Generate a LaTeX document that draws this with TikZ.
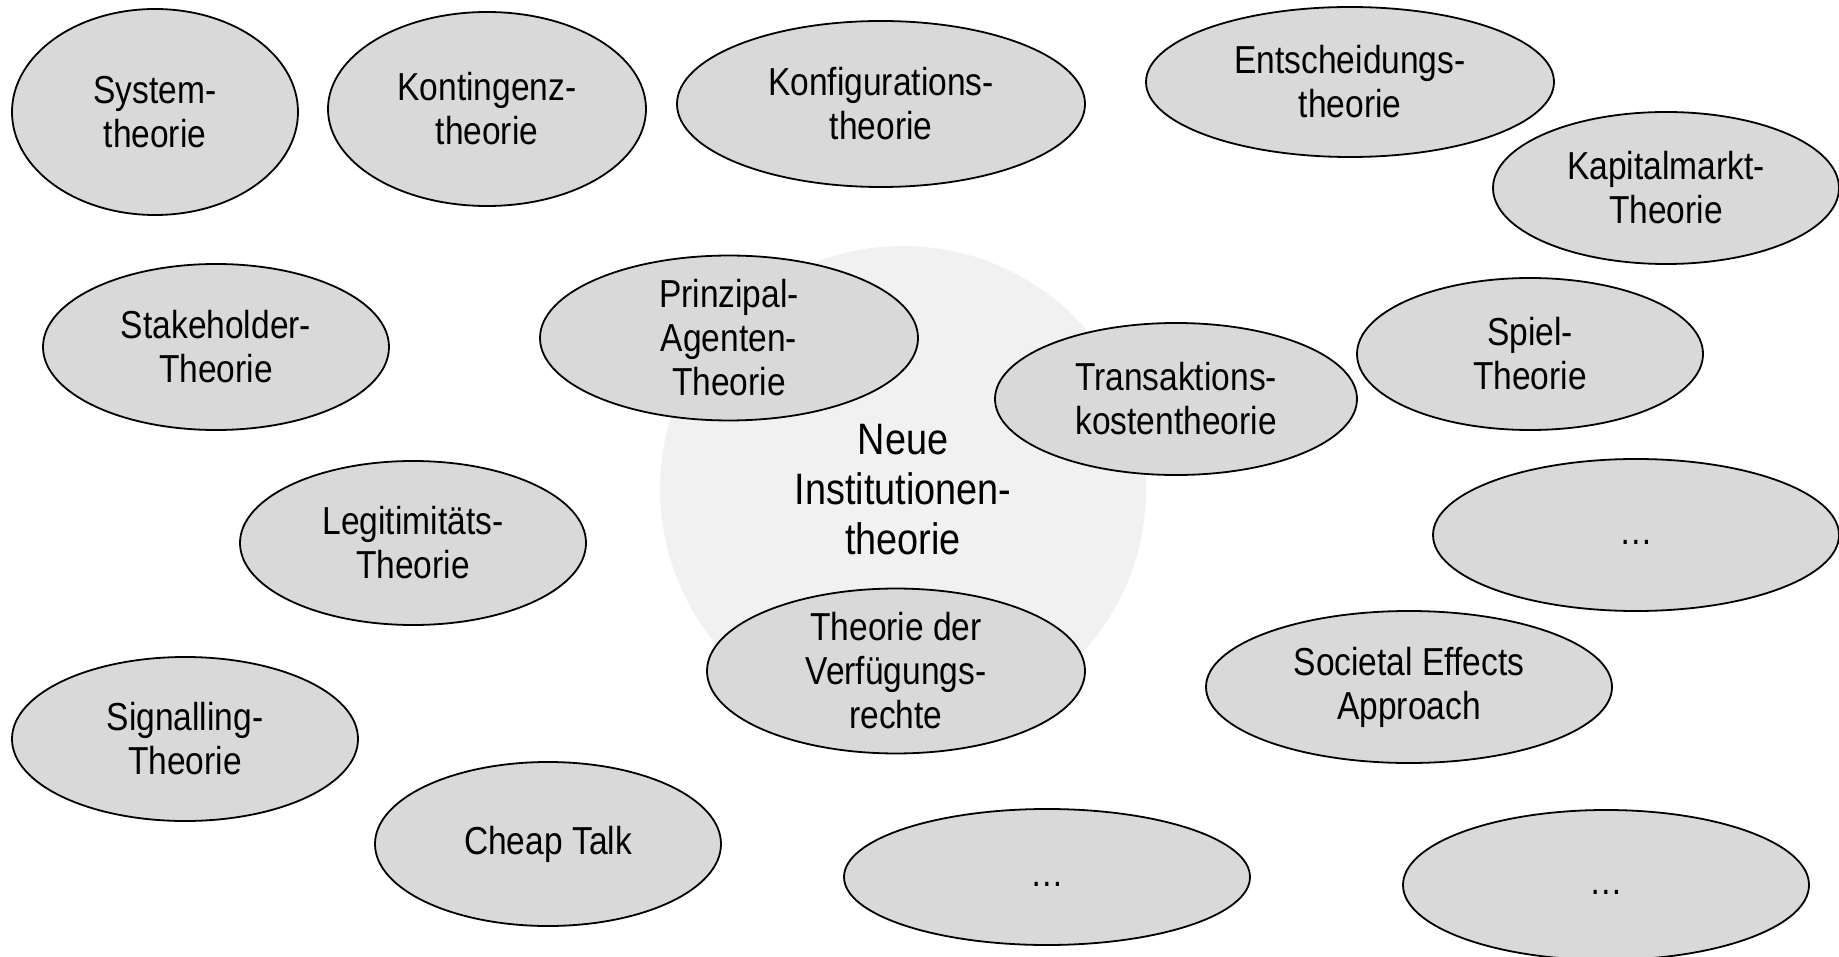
\documentclass[tikz,border=0pt]{standalone}
\usepackage{fontspec}
\setmainfont{Liberation Sans}[FakeStretch=0.86]
\usetikzlibrary{shapes.geometric}
\definecolor{bubblefill}{HTML}{D9D9D9}
\definecolor{corefill}{HTML}{F1F1F1}
\newcommand{\moredots}{\vphantom{Ag}…}
\begin{document}
\begin{tikzpicture}[x=1pt,y=-1pt,
  theory/.style={ellipse, draw=black, line width=1.8pt, fill=bubblefill,
    inner sep=0pt, align=center, font=\fontsize{39}{44}\selectfont},
  core/.style={align=center, font=\fontsize{44}{50}\selectfont}]
  \useasboundingbox (0,0) rectangle (1839,957);
  % central field of the new institutional economics
  \fill[corefill] (903,489) circle[radius=243];
  \node[core] (nie) at (903,490) {Neue\\Institutionen-\\theorie};
  % surrounding theories
  \node[theory, minimum width=286, minimum height=206] (sys) at (155,112) {System-\\theorie};
  \node[theory, minimum width=318, minimum height=194] (kont) at (487,109) {Kontingenz-\\theorie};
  \node[theory, minimum width=408, minimum height=166] (konf) at (881,104) {Konfigurations-\\theorie};
  \node[theory, minimum width=408, minimum height=150] (ent) at (1350,82) {Entscheidungs-\\theorie};
  \node[theory, minimum width=346, minimum height=152] (kap) at (1666,188) {Kapitalmarkt-\\Theorie};
  \node[theory, minimum width=346, minimum height=166] (stake) at (216,347) {Stakeholder-\\Theorie};
  \node[theory, minimum width=378, minimum height=152] (pa) at (729,338) {Prinzipal-\\Agenten-\\Theorie};
  \node[theory, minimum width=362, minimum height=152] (tk) at (1176,399) {Transaktions-\\kostentheorie};
  \node[theory, minimum width=346, minimum height=152] (spiel) at (1530,354) {Spiel-\\Theorie};
  \node[theory, minimum width=346, minimum height=164] (leg) at (413,543) {Legitimitäts-\\Theorie};
  \node[theory, minimum width=406, minimum height=152] (etc1) at (1636,535) {\moredots};
  \node[theory, minimum width=378, minimum height=152] (vr) at (896,671) {Theorie der\\Verfügungs-\\rechte};
  \node[theory, minimum width=406, minimum height=152] (soc) at (1409,687) {Societal Effects\\Approach};
  \node[theory, minimum width=346, minimum height=164] (sig) at (185,739) {Signalling-\\Theorie};
  \node[theory, minimum width=346, minimum height=164] (cheap) at (548,844) {Cheap Talk};
  \node[theory, minimum width=406, minimum height=136] (etc2) at (1047,877) {\moredots};
  \node[theory, minimum width=406, minimum height=150] (etc3) at (1606,885) {\moredots};
\end{tikzpicture}
\end{document}
